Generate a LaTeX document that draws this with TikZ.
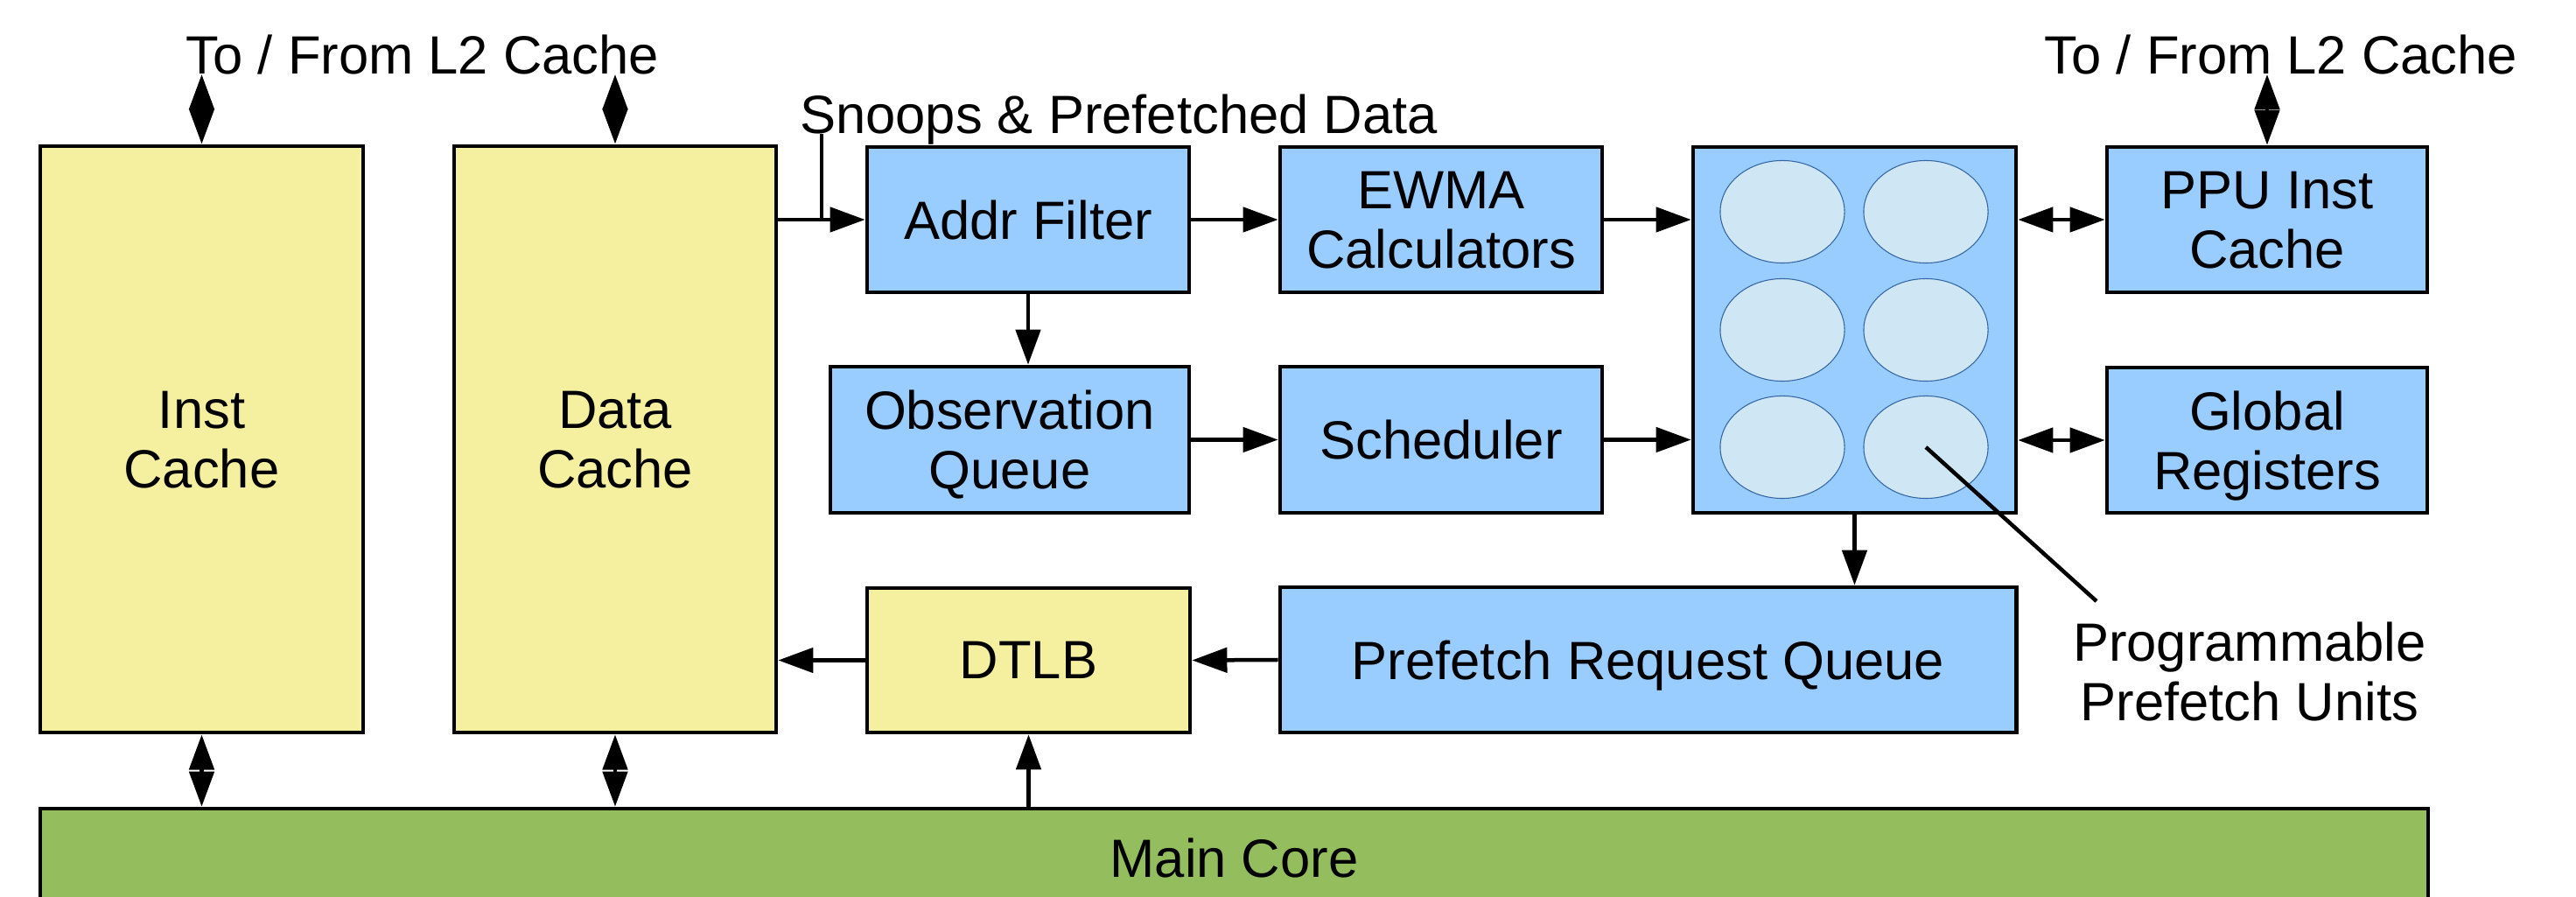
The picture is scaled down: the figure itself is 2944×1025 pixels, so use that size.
\documentclass[tikz,border=0pt]{standalone}
\usepackage{fontspec}
\setmainfont{Liberation Sans}
\usetikzlibrary{arrows.meta,shapes.geometric}

\definecolor{cacheyellow}{HTML}{F5EFA0}
\definecolor{unitblue}{HTML}{99CCFF}
\definecolor{coregreen}{HTML}{94BD5E}
\definecolor{ppufill}{HTML}{CFE6F4}
\definecolor{ppuedge}{HTML}{3465A4}

\newcommand\lblfont{\fontsize{17.5}{19.4}\selectfont}

\tikzset{
  blk/.style={draw, line width=1.28pt, inner sep=0pt, align=center,
              font=\lblfont, text depth=0pt},
  yellowblk/.style={blk, fill=cacheyellow},
  blueblk/.style={blk, fill=unitblue},
  greenblk/.style={blk, fill=coregreen},
  ppu/.style={ellipse, draw=ppuedge, line width=0.3pt, fill=ppufill,
              minimum width=1.42cm, minimum height=1.17cm, inner sep=0pt},
  lbl/.style={font=\lblfont, inner sep=0pt},
  wire/.style={line width=1.28pt},
  tip/.tip={Triangle[length=11.4pt,width=8pt]},
  arr/.style={wire, -tip},
  biarr/.style={wire, tip-tip},
}

\begin{document}
\begin{tikzpicture}[x=0.01cm, y=-0.01cm]
\useasboundingbox (0,0) rectangle (2944,1025);
\clip (0,0) rectangle (2944,1025);

% caches and core-side blocks
\node[yellowblk, minimum width=3.69cm, minimum height=6.70cm] (inst) at (230.5,502) {Inst\\Cache};
\node[yellowblk, minimum width=3.68cm, minimum height=6.70cm] (data) at (703,502) {Data\\Cache};
\node[yellowblk, minimum width=3.69cm, minimum height=1.65cm] (dtlb) at (1175.5,754.5) {DTLB};

% prefetcher pipeline
\node[blueblk, minimum width=3.68cm, minimum height=1.66cm] (addr) at (1175,251) {Addr Filter};
\node[blueblk, minimum width=3.68cm, minimum height=1.66cm] (ewma) at (1647,251) {EWMA\\Calculators};
\node[blueblk, minimum width=4.10cm, minimum height=1.67cm] (obsq) at (1154,502.5) {Observation\\Queue};
\node[blueblk, minimum width=3.68cm, minimum height=1.67cm] (sched) at (1647,502.5) {Scheduler};
\node[blueblk, minimum width=3.69cm, minimum height=4.18cm] (ppus) at (2119.5,377) {};
\node[blueblk, minimum width=3.66cm, minimum height=1.66cm] (ppuic) at (2591,251) {PPU Inst\\Cache};
\node[blueblk, minimum width=3.66cm, minimum height=1.66cm] (greg) at (2591,503) {Global\\Registers};
\node[blueblk, minimum width=8.41cm, minimum height=1.66cm] (prq) at (1883.5,754) {Prefetch Request Queue};

% the six programmable prefetch units
\node[ppu] (e11) at (2037,242) {};
\node[ppu] (e12) at (2201,242) {};
\node[ppu] (e21) at (2037,377) {};
\node[ppu] (e22) at (2201,377) {};
\node[ppu] (e31) at (2037,511) {};
\node[ppu] (e32) at (2201,511) {};

% main core
\node[greenblk, minimum width=27.27cm, minimum height=1.12cm] (core) at (1410.5,980) {Main Core};

% free labels
\node[lbl, anchor=base] (l2left) at (483,85) {To / From L2 Cache};
\node[lbl, anchor=base] (l2right) at (2607,85) {To / From L2 Cache};
\node[lbl, anchor=base] (snooplbl) at (1278.5,153) {Snoops \& Prefetched Data};
\node[lbl, align=center, text depth=0pt] (ppulbl) at (2571,767) {Programmable\\Prefetch Units};

% free ends of connectors
\coordinate (l2a) at (230.5,85);
\coordinate (l2b) at (703,85);
\coordinate (l2c) at (2591,85);
\coordinate (snoop) at (939,153);
\coordinate (leadend) at (2396,687);

% L2 traffic
\draw[biarr] (l2a) -- (inst.north);
\draw[biarr] (l2b) -- (data.north);
\draw[biarr] (l2c) -- (ppuic.north);

% snoops and data cache into the address filter
\draw[arr] (data.east |- addr.west) -- (addr.west);
\draw[wire] (snoop) -- (snoop |- addr.west);

% pipeline
\draw[arr] (addr) -- (ewma);
\draw[arr] (ewma.east) -- (ppus.west |- ewma.east);
\draw[arr] (addr.south) -- (addr.south |- obsq.north);
\draw[arr] (obsq) -- (sched);
\draw[arr] (sched.east) -- (ppus.west |- sched.east);
\draw[biarr] (ppus.east |- ppuic.west) -- (ppuic.west);
\draw[biarr] (ppus.east |- greg.west) -- (greg.west);
\draw[arr] (ppus.south) -- (ppus.south |- prq.north);
\draw[arr] (prq.west) -- (dtlb.east);
\draw[arr] (dtlb.west) -- (data.east |- dtlb.west);

% core connections
\draw[biarr] (inst.south) -- (inst.south |- core.north);
\draw[biarr] (data.south) -- (data.south |- core.north);
\draw[arr] (dtlb.south |- core.north) -- (dtlb.south);

% leader to the prefetch units
\draw[wire] (e32.center) -- (leadend);
\end{tikzpicture}
\end{document}
